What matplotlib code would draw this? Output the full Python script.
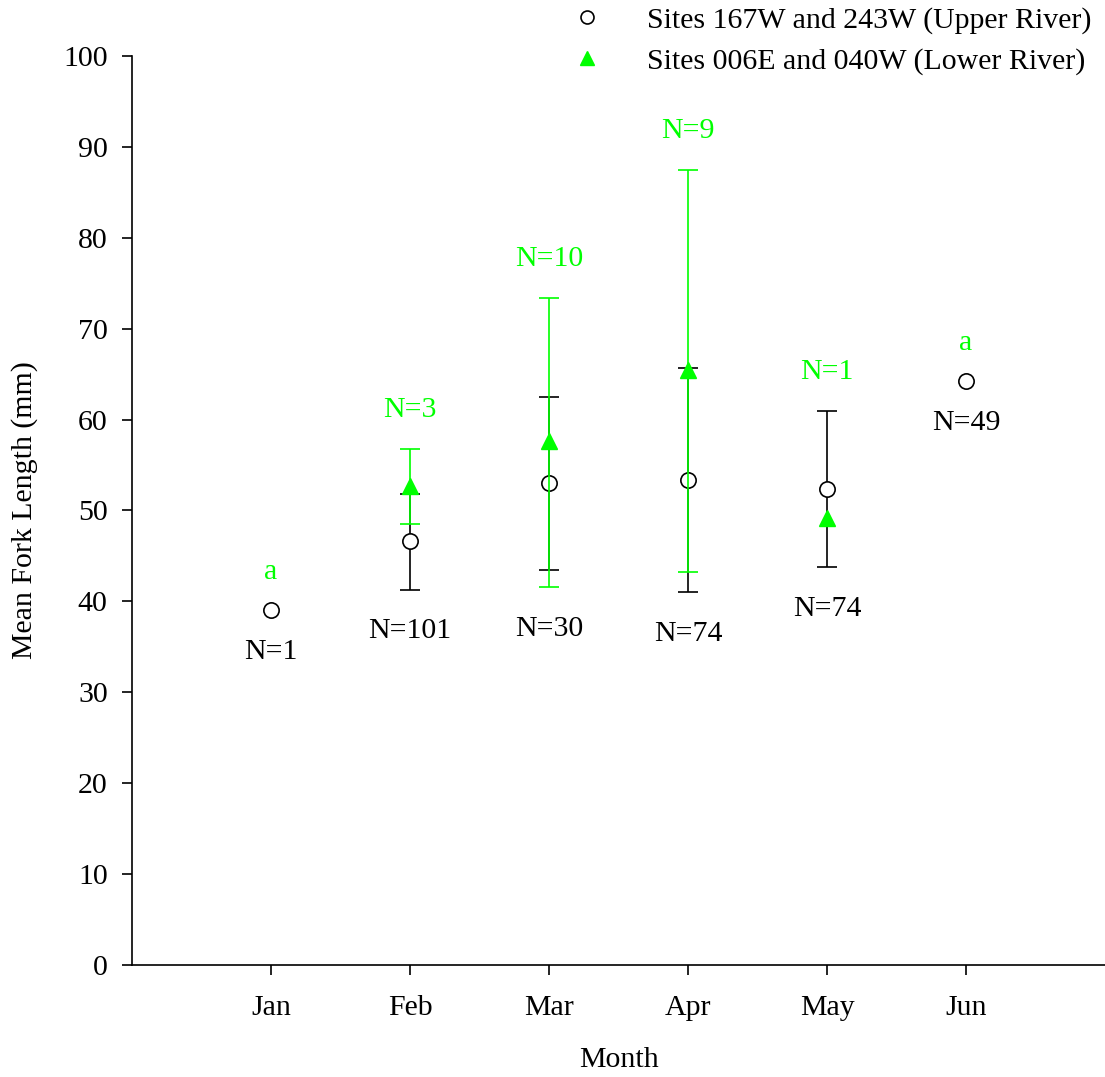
import matplotlib
matplotlib.use("Agg")
import matplotlib.pyplot as plt
import numpy as np

plt.rcParams['font.family'] = ['Liberation Serif', 'DejaVu Serif']

# data
months = ["Jan", "Feb", "Mar", "Apr", "May", "Jun"]
upper_mean = [39.0, 46.6, 53.0, 53.4, 52.4, 64.2]
upper_lo = [np.nan, 41.3, 43.4, 41.0, 43.8, np.nan]
upper_hi = [np.nan, 51.8, 62.5, 65.7, 61.0, np.nan]
upper_n = ["N=1", "N=101", "N=30", "N=74", "N=74", "N=49"]

lower_mean = [np.nan, 52.7, 57.6, 65.5, 49.2, np.nan]
lower_lo = [np.nan, 48.5, 41.6, 43.2, np.nan, np.nan]
lower_hi = [np.nan, 56.8, 73.4, 87.5, np.nan, np.nan]
lower_n = ["a", "N=3", "N=10", "N=9", "N=1", "a"]

GREEN = "#00FF00"
FS = 21.5

x = np.arange(1, len(months) + 1)
um = np.array(upper_mean); ulo = np.array(upper_lo); uhi = np.array(upper_hi)
lm = np.array(lower_mean); llo = np.array(lower_lo); lhi = np.array(lower_hi)

fig = plt.figure(figsize=(11.05, 10.77), dpi=100)
ax = fig.add_axes([0.1195, 0.104, 0.8805, 0.844])

# upper river: error bars then open circles
ok = ~np.isnan(ulo)
ax.errorbar(x[ok], um[ok], yerr=[um[ok] - ulo[ok], uhi[ok] - um[ok]], fmt='none',
            ecolor='black', elinewidth=1.2, capsize=7, capthick=1.2, zorder=2)
ax.plot(x, um, 'o', ms=11, mfc='white', mec='black', mew=1.2, ls='none', zorder=3,
        label="Sites 167W and 243W (Upper River)")

# lower river
ok = ~np.isnan(llo)
ax.errorbar(x[ok], lm[ok], yerr=[lm[ok] - llo[ok], lhi[ok] - lm[ok]], fmt='none',
            ecolor=GREEN, elinewidth=1.2, capsize=7, capthick=1.2, zorder=4)
okm = ~np.isnan(lm)
ax.plot(x[okm], lm[okm], '^', ms=12, mfc=GREEN, mec=GREEN, ls='none', zorder=5,
        label="Sites 006E and 040W (Lower River)")

# N labels: green above the top of everything, black below the bottom
for i in range(len(months)):
    vals = [v for v in (um[i], ulo[i], uhi[i], lm[i], llo[i], lhi[i]) if not np.isnan(v)]
    top = max(vals)
    lows = [v for v in (um[i], ulo[i], llo[i]) if not np.isnan(v)]
    bot = min(lows)
    ax.annotate(lower_n[i], (x[i], top), xytext=(0, 28), textcoords='offset points',
                ha='center', va='center', color=GREEN, fontsize=FS)
    ax.annotate(upper_n[i], (x[i], bot), xytext=(0, -30), textcoords='offset points',
                ha='center', va='center', color='black', fontsize=FS)

ax.set_xlim(0, 7)
ax.set_ylim(0, 100)
ax.set_xticks(x)
ax.set_xticklabels(months)
ax.set_yticks(np.arange(0, 101, 10))
ax.tick_params(direction='out', length=7.5, width=1.2, labelsize=FS, pad=10)
ax.tick_params(axis='x', pad=14)
ax.spines['top'].set_visible(False)
ax.spines['right'].set_visible(False)
ax.spines['left'].set_linewidth(1.2)
ax.spines['bottom'].set_linewidth(1.2)
ax.set_xlabel("Month", fontsize=FS, labelpad=19)
ax.set_ylabel("Mean Fork Length (mm)", fontsize=FS, labelpad=18)

leg = ax.legend(loc='upper right', frameon=False, fontsize=FS, handletextpad=1.0,
                labelspacing=0.45, borderaxespad=0, borderpad=0.15, markerscale=0.85)
leg.set_bbox_to_anchor((0.992, 0.998), transform=fig.transFigure)

fig.savefig("out.png", dpi=100)
